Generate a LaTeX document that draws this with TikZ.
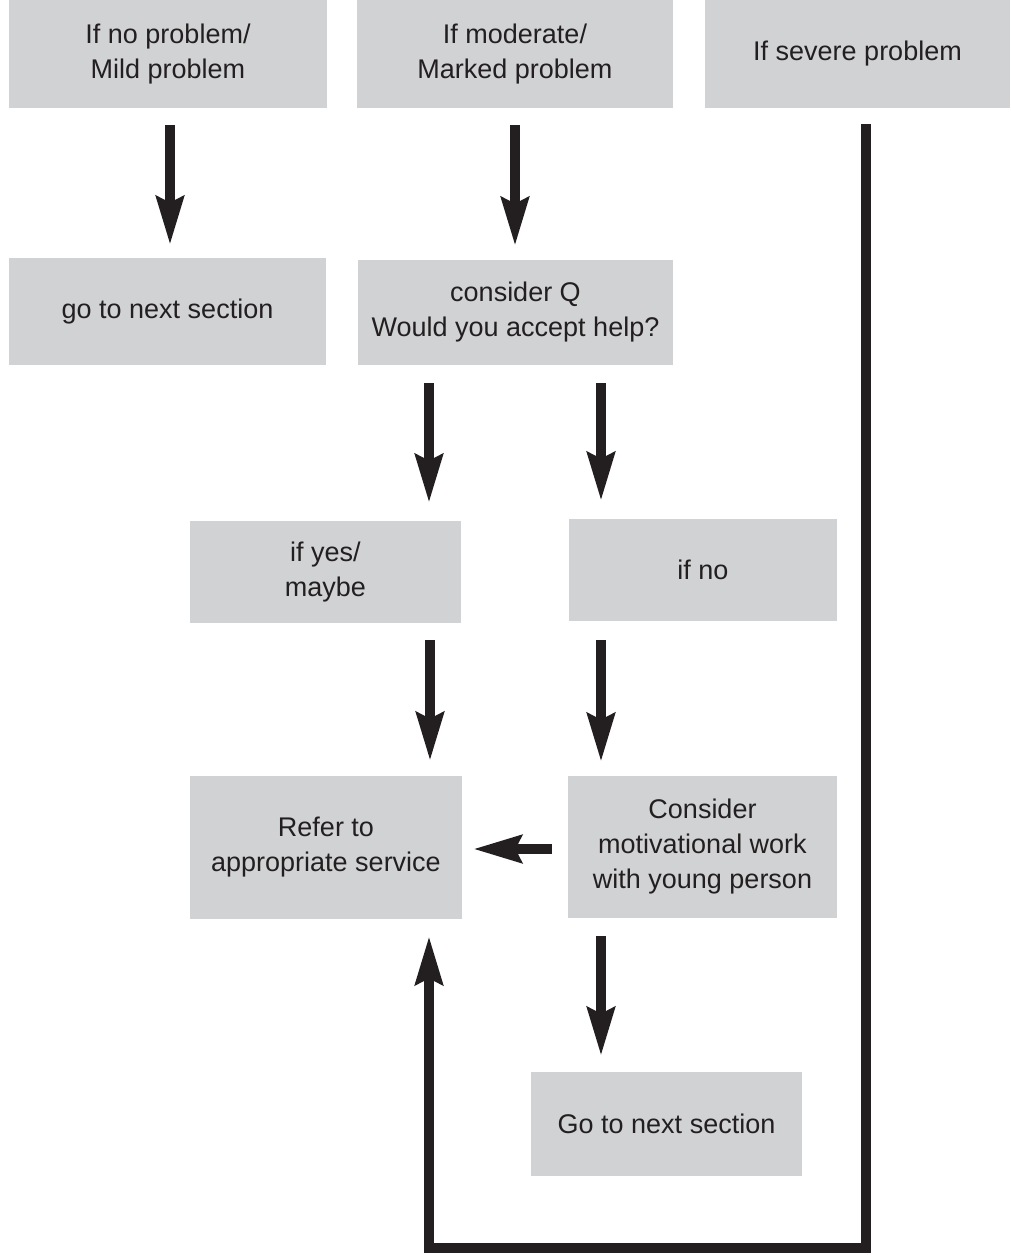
\documentclass[tikz,border=0pt]{standalone}
\usepackage{fontspec}
\setmainfont{Liberation Sans}
\usetikzlibrary{arrows.meta,calc}
\definecolor{boxgray}{RGB}{209,210,212}
\definecolor{ink}{RGB}{35,31,32}
\begin{document}
\begin{tikzpicture}[x=1pt,y=-1pt,
  box/.style={fill=boxgray, draw=none, inner sep=0pt, align=center,
    font=\fontsize{27}{35}\selectfont, text=ink},
  arr/.style={draw=ink, line width=10pt, line join=miter,
    -{Stealth[length=48pt,width=27pt,inset=6pt]}}]
\useasboundingbox (0,0) rectangle (1010,1255);
% boxes
\node[box, minimum width=318pt, minimum height=108pt] (b1) at (168,54) {If no problem/\\Mild problem};
\node[box, minimum width=316pt, minimum height=108pt] (b2) at (515,54) {If moderate/\\Marked problem};
\node[box, minimum width=305pt, minimum height=108pt] (b3) at (857.5,54) {If severe problem};
\node[box, minimum width=317pt, minimum height=107pt] (b4) at (167.5,311.5) {go to next section};
\node[box, minimum width=315pt, minimum height=105pt] (b5) at (515.5,312.5) {consider Q\\Would you accept help?};
\node[box, minimum width=271pt, minimum height=102pt] (b6) at (325.5,572) {if yes/\\maybe};
\node[box, minimum width=268pt, minimum height=102pt] (b7) at (703,570) {if no};
\node[box, minimum width=272pt, minimum height=143pt] (b8) at (326,847.5) {Refer to\\appropriate service};
\node[box, minimum width=269pt, minimum height=142pt] (b9) at (702.5,847) {Consider\\motivational work\\with young person};
\node[box, minimum width=271pt, minimum height=104pt] (b10) at (666.5,1124) {Go to next section};
\coordinate (corner) at (866,1248);
% arrows
\draw[arr, shorten <=17pt, shorten >=13pt] ([xshift=2pt]b1.south) -- ([xshift=2pt]b1.south |- b4.north);
\draw[arr, shorten <=17pt, shorten >=14pt] (b2.south) -- (b2.south |- b5.north);
\draw[arr, shorten <=18pt, shorten >=18pt] ([xshift=-86.5pt]b5.south) -- ([xshift=-86.5pt]b5.south |- b6.north);
\draw[arr, shorten <=18pt, shorten >=18pt] ([xshift=85.5pt]b5.south) -- ([xshift=85.5pt]b5.south |- b7.north);
\draw[arr, shorten <=17pt, shorten >=15pt] ([xshift=104.5pt]b6.south) -- ([xshift=104.5pt]b6.south |- b8.north);
\draw[arr, shorten <=19pt, shorten >=14pt] ([xshift=-102pt]b7.south) -- ([xshift=-102pt]b7.south |- b9.north);
\draw[arr, shorten <=16pt, shorten >=11pt] ([yshift=-2pt]b9.west) -- ([yshift=-2pt]b9.west -| b8.east);
\draw[arr, shorten <=18pt, shorten >=16pt] ([xshift=-101.5pt]b9.south) -- ([xshift=-101.5pt]b9.south |- b10.north);
\draw[arr, shorten <=16pt, shorten >=17pt] (b3.south -| corner) -- (corner) -| ([xshift=103pt]b8.south);
\end{tikzpicture}
\end{document}
